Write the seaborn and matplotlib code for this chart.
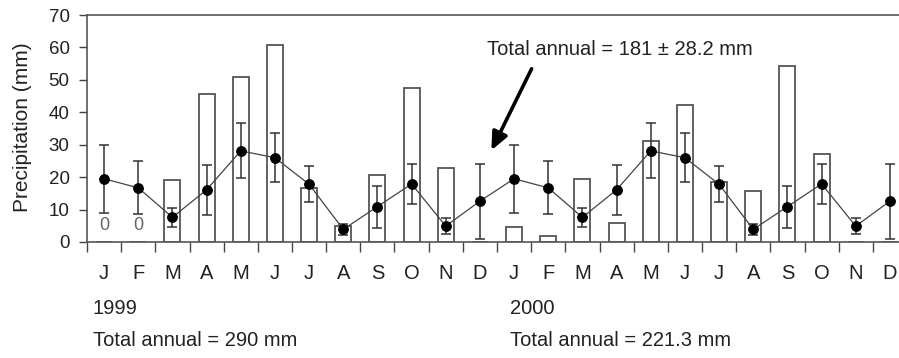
import matplotlib
matplotlib.use("Agg")
import matplotlib.pyplot as plt
import seaborn as sns
import pandas as pd
import numpy as np

sns.set_theme(style="white")
plt.rcParams["font.family"] = ["Liberation Sans", "DejaVu Sans"]

months = ["J", "F", "M", "A", "M", "J", "J", "A", "S", "O", "N", "D"]

# monthly totals (mm)
rain_1999 = [0, 0, 19.0, 45.5, 50.9, 60.7, 16.7, 4.9, 20.6, 47.5, 22.7, 0]
rain_2000 = [4.7, 2.0, 19.3, 5.9, 31.1, 42.4, 18.4, 15.7, 54.4, 27.0, 0, 0]

# long-term monthly mean and SD
lt_mean = [19.5, 16.7, 7.6, 16.1, 28.1, 26.0, 17.8, 3.9, 10.9, 17.9, 4.9, 12.6]
lt_sd = [10.5, 8.2, 3.0, 7.7, 8.5, 7.6, 5.5, 1.6, 6.5, 6.2, 2.4, 11.6]

df = pd.DataFrame({
    "idx": np.arange(24),
    "month": months * 2,
    "rain": rain_1999 + rain_2000,
    "mean": lt_mean * 2,
    "sd": lt_sd * 2,
})

fig = plt.figure(figsize=(8.99, 3.58), dpi=100)
ax = fig.add_axes([87 / 899, 1 - 242 / 358, 820 / 899, 227 / 358])

sns.barplot(data=df, x="idx", y="rain", color="white", edgecolor="#555555",
            linewidth=1.3, width=0.47, saturation=1, ax=ax)
ax.errorbar(df["idx"], df["mean"], yerr=df["sd"], fmt="none", ecolor="#333333",
            elinewidth=1.1, capsize=3.6, capthick=1.1, zorder=3)
sns.lineplot(data=df, x="idx", y="mean", color="#444444", linewidth=0.9,
             marker="o", markersize=7, markerfacecolor="black",
             markeredgecolor="black", ax=ax, zorder=4)

# zero labels for months with no rain
for i in [0, 1]:
    ax.text(i, 5.2, "0", ha="center", va="center", fontsize=13, color="#666666")

ax.set_xlim(-0.5, 23.5)
ax.set_ylim(0, 70)
ax.set_yticks(range(0, 71, 10))
ax.set_xticks(range(24))
ax.set_xticklabels(df["month"], fontsize=14.5, color="#222222")
ax.set_xticks(np.arange(-0.5, 24, 1), minor=True)
ax.tick_params(axis="x", which="major", length=0, pad=16)
ax.tick_params(axis="x", which="minor", length=7, width=1, color="#444444",
               direction="out", bottom=True)
ax.tick_params(axis="y", length=6, width=1, color="#444444", left=True,
               labelsize=13.5, labelcolor="#222222", pad=6.5)
ax.set_xlabel("")
ax.set_ylabel("Precipitation (mm)", fontsize=15, color="#222222")
ax.yaxis.set_label_coords(-0.067, 0.507)

for side in ["left", "bottom", "top"]:
    ax.spines[side].set_color("#555555")
    ax.spines[side].set_linewidth(1.2)
ax.spines["right"].set_visible(False)

ax.text(11.2, 59.4, "Total annual = 181 \u00b1 28.2 mm", fontsize=14.5,
        color="#222222", va="center", ha="left")
ax.annotate("", xy=(11.3, 27.5), xytext=(12.55, 54.2),
            arrowprops=dict(arrowstyle="-|>,head_width=0.4,head_length=0.9",
                            color="black", lw=2.6))

fig.text(93 / 899, 1 - 309 / 358, "1999", fontsize=14.5,
         color="#222222", va="center")
fig.text(510 / 899, 1 - 309 / 358, "2000", fontsize=14.5,
         color="#222222", va="center")
fig.text(93 / 899, 1 - 341 / 358, "Total annual = 290 mm", fontsize=14.5,
         color="#222222", va="center")
fig.text(510 / 899, 1 - 341 / 358, "Total annual = 221.3 mm", fontsize=14.5,
         color="#222222", va="center")

fig.savefig("out.png", dpi=100)
